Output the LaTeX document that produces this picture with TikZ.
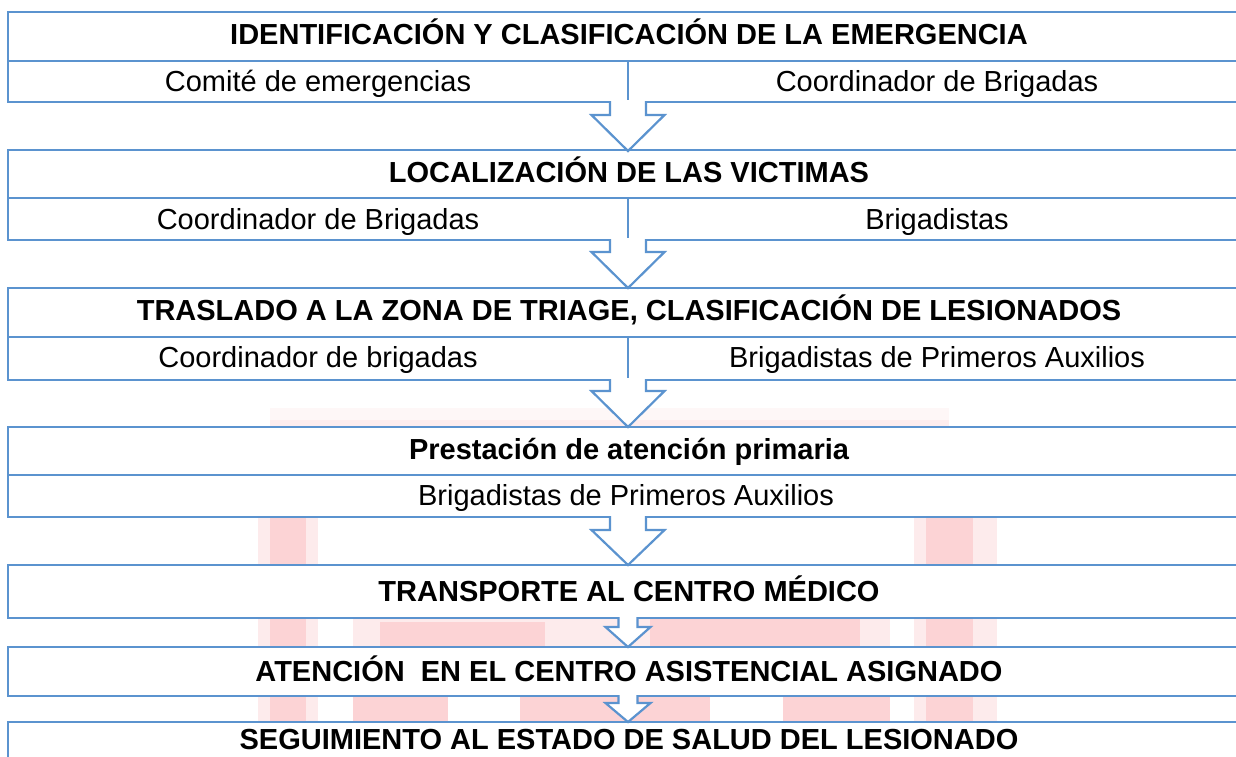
\documentclass[tikz,border=0pt]{standalone}
\usepackage{fontspec}
\setmainfont{Liberation Sans}
\definecolor{bl}{HTML}{5B93CF}
\definecolor{pk}{HTML}{FCD3D5}
\definecolor{pkl}{HTML}{FDEBEC}
\newcommand\flowarrow[6]{% #1 name, #2 top y, #3 head y, #4 tip y, #5 shaft half, #6 head half
  \coordinate (#1) at (628,#4);
  \fill[white] ({628-#5},{#2-2}) -- ({628-#5},#3) -- ({628-#6},#3) -- (628,#4) -- ({628+#6},#3) -- ({628+#5},#3) -- ({628+#5},{#2-2}) -- cycle;
  \draw[arrowline] ({628-#5},{#2-1}) -- ({628-#5},#3) -- ({628-#6},#3) -- (#1) -- ({628+#6},#3) -- ({628+#5},#3) -- ({628+#5},{#2-1});
}
\begin{document}
\begin{tikzpicture}[x=1pt,y=-1pt,
  boxline/.style={draw=bl, line width=2.2pt, fill=white},
  arrowline/.style={draw=bl, line width=2.2pt, line join=miter},
  divline/.style={draw=bl, line width=2.2pt},
  ttl/.style={font=\fontsize{29}{34}\selectfont\bfseries, anchor=base, inner sep=0pt},
  sub/.style={font=\fontsize{29}{34}\selectfont, anchor=base, inner sep=0pt}]
\useasboundingbox (0,0) rectangle (1236,756);
\clip (0,0) rectangle (1236,756);
\fill[white] (0,0) rectangle (1236,756);
% watermark
\fill[pk!18] (270,408) rectangle (949,427);
\fill[pk!40] (270,420) rectangle (949,427);
\fill[pkl] (258,517) rectangle (318,756);
\fill[pk] (270,517) rectangle (306,756);
\fill[pkl] (914,517) rectangle (997,756);
\fill[pk] (926,517) rectangle (973,756);
\fill[pkl] (353,618) rectangle (890,647);
\fill[pk] (380,622) rectangle (545,647);
\fill[pk] (650,618) rectangle (860,647);
\fill[pk] (353,696) rectangle (448,722);
\fill[pk] (520,696) rectangle (710,722);
\fill[pk] (783,696) rectangle (890,722);
% boxes
\path[boxline] (8,12) rectangle (1250,102);
\draw[divline] (8,61) -- (1250,61);
\draw[divline] (628,61) -- (628,102);
\path[boxline] (8,150) rectangle (1250,240);
\draw[divline] (8,198) -- (1250,198);
\draw[divline] (628,198) -- (628,240);
\path[boxline] (8,288) rectangle (1250,380);
\draw[divline] (8,337) -- (1250,337);
\draw[divline] (628,337) -- (628,380);
\path[boxline] (8,427) rectangle (1250,517);
\draw[divline] (8,475) -- (1250,475);
\path[boxline] (8,565) rectangle (1250,618);
\path[boxline] (8,647) rectangle (1250,696);
\path[boxline] (8,722) rectangle (1250,800);
% texts
\node[ttl] (t1) at (629,44) {IDENTIFICACIÓN Y CLASIFICACIÓN DE LA EMERGENCIA};
\node[sub] (s1a) at (318,91) {Comité de emergencias};
\node[sub] (s1b) at (937,91) {Coordinador de Brigadas};
\node[ttl] (t2) at (629,182) {LOCALIZACIÓN DE LAS VICTIMAS};
\node[sub] (s2a) at (318,229) {Coordinador de Brigadas};
\node[sub] (s2b) at (937,229) {Brigadistas};
\node[ttl] (t3) at (629,320) {TRASLADO A LA ZONA DE TRIAGE, CLASIFICACIÓN DE LESIONADOS};
\node[sub] (s3a) at (318,367) {Coordinador de brigadas};
\node[sub] (s3b) at (937,367) {Brigadistas de Primeros Auxilios};
\node[ttl] (t4) at (629,459) {Prestación de atención primaria};
\node[sub] (s4) at (626,505) {Brigadistas de Primeros Auxilios};
\node[ttl] (t5) at (629,601) {TRANSPORTE AL CENTRO MÉDICO};
\node[ttl] (t6) at (629,681) {ATENCIÓN\ \ EN EL CENTRO ASISTENCIAL ASIGNADO};
\node[ttl] (t7) at (629,749) {SEGUIMIENTO AL ESTADO DE SALUD DEL LESIONADO};
% arrows
\flowarrow{a1}{102}{115}{151}{18}{36.5}
\flowarrow{a2}{240}{252}{288}{18}{36.5}
\flowarrow{a3}{380}{391}{427}{18}{36.5}
\flowarrow{a4}{517}{530}{565}{18}{36.5}
\flowarrow{a5}{618}{627}{647}{9.5}{22.5}
\flowarrow{a6}{696}{703}{722}{9.5}{22.5}
\end{tikzpicture}
\end{document}
